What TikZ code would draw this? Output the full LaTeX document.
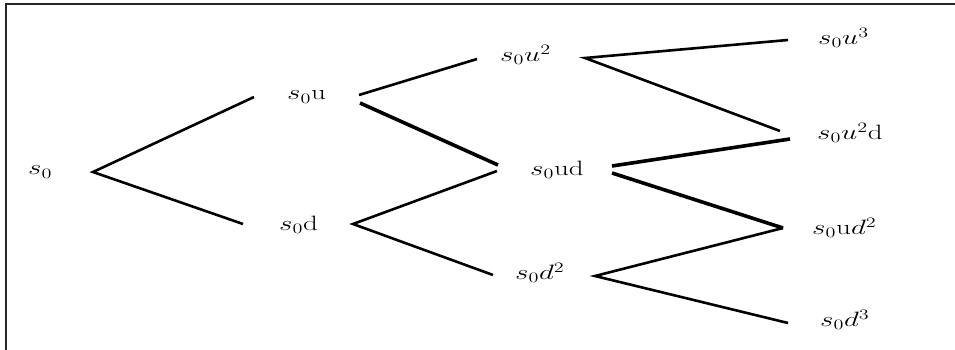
\documentclass[tikz,border=0pt]{standalone}
\usepackage{graphicx}
% wide state labels
\newcommand{\statelbl}[1]{\scalebox{1.4}[1]{#1}}
\begin{document}
\begin{tikzpicture}[x=1pt,y=-1pt,
  lbl/.style={anchor=west,inner sep=0pt,font=\fontsize{20}{22}\selectfont},
  edge/.style={line width=2.6pt},
  heavy/.style={line width=3.6pt}]
\useasboundingbox (0,0) rectangle (955,350);
% frame (top and left sides only)
\draw[line width=2pt,black!85] (955,4) -- (6,4) -- (6,350);

% state labels
\node[lbl] (s0)   at (28,172)  {\statelbl{$s_0$}};
\node[lbl] (su)   at (287,97)  {\statelbl{$s_0\mathrm{u}$}};
\node[lbl] (sd)   at (279,225) {\statelbl{$s_0\mathrm{d}$}};
\node[lbl] (suu)  at (500,55)  {\statelbl{$s_0u^2$}};
\node[lbl] (sud)  at (530,170) {\statelbl{$s_0\mathrm{ud}$}};
\node[lbl] (sdd)  at (515,273) {\statelbl{$s_0d^2$}};
\node[lbl] (suuu) at (818,38)  {\statelbl{$s_0u^3$}};
\node[lbl] (suud) at (817,133) {\statelbl{$s_0u^2\mathrm{d}$}};
\node[lbl] (sudd) at (812,228) {\statelbl{$s_0\mathrm{u}d^2$}};
\node[lbl] (sddd) at (820,320) {\statelbl{$s_0d^3$}};

% branch end points
\coordinate (f0)  at (93,172);
\coordinate (u1)  at (254,97);
\coordinate (d1)  at (243,224);
\coordinate (fu1) at (359,95);
\coordinate (fu2) at (360,103);
\coordinate (fd)  at (353,224);
\coordinate (uu)  at (477,59);
\coordinate (ud1) at (498,165);
\coordinate (ud2) at (497,171);
\coordinate (dd)  at (493,275);
\coordinate (fuu) at (585,58);
\coordinate (fud1) at (612,166);
\coordinate (fud2) at (612,173);
\coordinate (fdd) at (595,276);
\coordinate (uuu) at (788,40);
\coordinate (uud1) at (780,131);
\coordinate (uud2) at (790,139);
\coordinate (udd) at (783,228);
\coordinate (ddd) at (788,323);

% tree branches
\draw[edge] (u1) -- (f0) -- (d1);
\draw[edge] (fu1) -- (uu);
\draw[heavy] (fu2) -- (ud1);
\draw[edge] (ud2) -- (fd) -- (dd);
\draw[edge] (uuu) -- (fuu) -- (uud1);
\draw[heavy] (fud1) -- (uud2);
\draw[heavy] (fud2) -- (udd);
\draw[edge] (udd) -- (fdd) -- (ddd);
\end{tikzpicture}
\end{document}
